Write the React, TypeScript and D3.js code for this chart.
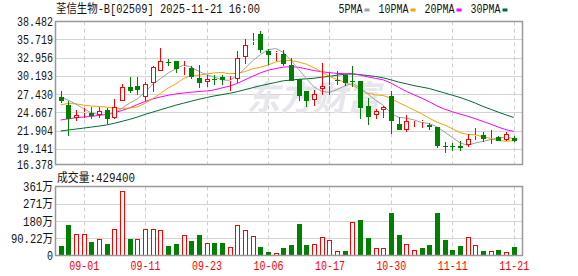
import React from "react";
import * as d3 from "d3";

// ---- data ----
const dates = [
  "08-27","08-28","08-29","09-01","09-02","09-03","09-04","09-05","09-08","09-09",
  "09-10","09-11","09-12","09-15","09-16","09-17","09-18","09-19","09-22","09-23",
  "09-24","09-25","09-26","09-29","09-30","10-02","10-03","10-06","10-08","10-09",
  "10-10","10-13","10-14","10-15","10-16","10-17","10-20","10-21","10-22","10-23",
  "10-24","10-27","10-28","10-30","10-31","11-03","11-04","11-05","11-06","11-07",
  "11-10","11-11","11-12","11-13","11-14","11-17","11-18","11-19","11-20","11-21",
];
const openP = [
  26.94,25.73,23.80,24.55,24.56,24.31,24.97,23.80,26.43,28.51,
  28.66,26.94,29.12,30.99,32.35,32.40,31.60,31.39,29.87,29.27,
  29.72,29.98,29.52,29.72,33.01,35.44,36.60,34.02,33.62,33.52,
  31.90,29.72,27.95,26.58,28.20,28.61,29.62,30.38,29.47,29.47,
  25.67,24.21,24.97,27.09,22.89,22.03,23.35,23.30,22.79,22.43,
  19.60,19.50,19.50,19.65,21.12,21.17,20.61,20.92,20.41,20.77,
];
const highP = [
  27.85,26.33,25.07,25.27,25.42,25.42,25.32,26.69,29.01,29.98,
  29.98,29.22,31.75,34.43,32.71,32.50,32.50,31.65,31.80,30.38,
  30.28,30.38,30.13,33.92,35.85,36.71,36.96,34.33,34.02,34.07,
  32.91,29.72,27.95,28.10,32.15,30.63,30.89,30.48,31.65,29.47,
  26.84,25.22,25.57,27.95,23.90,24.31,23.55,23.45,23.04,22.43,
  20.16,20.01,20.26,21.37,22.28,21.68,22.03,21.02,21.63,21.02,
];
const lowP = [
  26.03,21.00,23.30,23.76,23.65,23.80,22.94,23.70,26.33,27.60,
  27.24,26.43,27.75,30.89,31.70,30.63,30.28,29.77,28.36,28.51,
  28.86,28.76,27.95,29.12,31.99,34.83,33.67,31.90,32.40,31.65,
  29.37,26.43,25.42,25.67,27.34,27.34,28.86,28.61,28.46,23.70,
  22.69,23.70,23.80,21.42,21.93,21.68,22.44,22.28,21.93,19.25,
  18.54,18.84,18.74,19.35,20.41,20.16,19.91,20.26,20.26,20.16,
];
const closeP = [
  26.33,23.65,24.21,24.65,24.05,24.92,23.70,25.42,28.46,27.85,
  28.10,28.91,31.49,32.40,32.25,31.29,31.75,29.98,29.12,29.72,
  29.57,29.52,29.62,32.91,34.93,35.54,34.07,33.42,33.77,32.00,
  29.47,27.19,26.43,27.44,28.71,28.75,29.37,29.12,29.32,25.32,
  23.95,24.81,25.42,23.30,22.03,23.40,23.45,23.40,22.49,19.50,
  19.45,19.35,19.30,20.61,21.27,20.67,20.77,20.36,21.37,20.26,
];
// volume in 万 (10k shares)
const volume = [
  48.6,158,114.6,114.6,69.4,88.5,59,140.6,335,85,
  85,140.6,140.6,135.4,52,59,109,74.6,109,67.7,
  64.2,67.7,46.9,161.4,132,104,46.9,17.4,13.9,38.2,
  53.8,163,53.8,59,95.5,79.9,22.6,22.6,173.6,184,
  90.3,38.2,38.2,220.5,105.9,62.5,31.2,38.2,53.8,220.5,
  81.6,27.8,48.6,99,57.3,22.6,26,27.8,20.8,42.94,
];
// volume bar colour: 1 = up (red), 0 = down (green)
const volUp = [
  0,0,1,1,0,1,0,1,1,0,
  1,1,1,1,0,0,1,0,0,1,
  0,0,1,1,1,1,0,0,1,0,
  0,0,0,1,1,1,1,0,1,0,
  0,1,1,0,0,1,1,0,0,0,
  0,0,0,1,1,0,1,0,1,0,
];
const ma5 = [
  27.0,26.5,25.9,25.2,24.58,24.30,24.31,24.55,25.31,26.07,
  26.71,27.75,28.96,29.75,30.63,31.27,31.84,31.53,30.88,30.37,
  30.03,29.58,29.51,30.27,31.31,32.50,33.41,34.17,34.35,33.76,
  32.55,31.17,29.77,28.51,27.85,27.70,28.13,28.67,29.05,28.37,
  27.42,26.50,25.76,24.56,23.90,23.79,23.52,23.13,22.96,22.46,
  21.67,20.85,20.03,19.65,20.01,20.25,20.53,20.74,20.89,20.69,
];
const ma10 = [
  25.8,26.0,25.95,25.75,25.62,25.55,25.45,25.3,25.25,25.32,
  25.50,26.03,26.76,27.53,28.35,28.99,29.79,30.25,30.31,30.50,
  30.65,30.71,30.52,30.57,30.84,31.27,31.50,31.84,32.31,32.54,
  32.53,32.29,31.97,31.43,30.80,30.12,29.65,29.22,28.78,28.11,
  27.56,27.32,27.22,26.80,26.14,25.60,25.01,24.45,23.76,23.18,
  22.73,22.18,21.58,21.31,21.23,20.96,20.69,20.38,20.27,20.35,
];
const ma20 = [
  23.5,23.68,23.85,23.95,24.05,24.2,24.35,24.6,24.95,25.35,
  25.85,26.3,26.7,27.0,27.25,27.45,27.6,27.72,27.82,27.91,
  28.07,28.37,28.64,29.05,29.60,30.13,30.65,31.05,31.31,31.52,
  31.59,31.50,31.25,31.00,30.82,30.69,30.57,30.53,30.54,30.32,
  30.04,29.81,29.60,29.11,28.47,27.86,27.33,26.83,26.27,25.64,
  25.14,24.75,24.40,24.06,23.68,23.28,22.85,22.41,22.02,21.76,
];
const ma30 = [
  21.83,21.98,22.12,22.27,22.42,22.58,22.75,23.0,23.3,23.6,
  23.95,24.35,24.7,25.05,25.4,25.75,26.05,26.35,26.65,26.9,
  27.15,27.35,27.55,27.8,28.1,28.4,28.7,28.95,29.2,29.45,
  29.56,29.68,29.75,29.84,30.00,30.12,30.31,30.44,30.47,30.38,
  30.24,30.11,29.90,29.60,29.26,29.00,28.72,28.50,28.28,27.94,
  27.60,27.26,26.92,26.51,26.06,25.56,25.12,24.68,24.27,23.88,
];
const priceTicks = [38.482, 35.719, 32.956, 30.193, 27.43, 24.667, 21.904, 19.141, 16.378];
const volTicks = [0, 90.22, 180, 271, 361];
const volTickLabels = ["0", "90.22万", "180万", "271万", "361万"];
const dateTicks = ["09-01", "09-11", "09-23", "10-06", "10-17", "10-30", "11-11", "11-21"];
const titleText = "荃信生物-B[02509] 2025-11-21 16:00";
const volTitle = "成交量:429400";
const watermarkText = "东方财富";
const legendItems = [
  { label: "5PMA", color: "#a0a0a0" },
  { label: "10PMA", color: "#f5a300" },
  { label: "20PMA", color: "#ff00ff" },
  { label: "30PMA", color: "#006b33" },
];

// ---- layout ----
const W = 578, H = 276;
const L = 55.5, R = 522.5;
const T1 = 21.5, B1 = 164.5;
const T2 = 186.5, B2 = 255.5;
const UP = "#ff0000", DOWN = "#008000";
const FONT = "'Liberation Mono','Noto Sans CJK SC',monospace";

const isCJK = (ch: string) => /[\u3000-\u9fff\uff00-\uffef]/.test(ch);
const textW = (s: string) => Array.from(s).reduce((a, c) => a + (isCJK(c) ? 12 : 6), 0);

function T({ x, y, s, anchor = "start", fill = "#111" }: { x: number; y: number; s: string; anchor?: string; fill?: string }) {
  const w = textW(s);
  const x0 = anchor === "end" ? x - w : anchor === "middle" ? x - w / 2 : x;
  return (
    <text x={x0} y={y} fontFamily={FONT} fontSize={12} fill={fill} textLength={w} lengthAdjust="spacingAndGlyphs">
      {s}
    </text>
  );
}

export default function App() {
  const x = d3.scaleBand<string>().domain(dates).range([56.8, 56.8 + dates.length * 7.68]).padding(0);
  const cx = (i: number) => (x(dates[i]) as number) + x.bandwidth() / 2;
  const y = d3.scaleLinear().domain([16.378, 38.482]).range([166.9, 21.3]);
  const yv = d3.scaleLinear().domain([0, 361]).range([B2, T2]);

  const line = (arr: number[]) =>
    d3.line<number>().x((_, i) => cx(i)).y((v) => y(v))(arr) || "";

  return (
    <svg width={W} height={H} style={{ position: "absolute", left: 0, top: 0, background: "#fff" }}>
      <rect x={0} y={0} width={W} height={H} fill="#fff" />
      {/* title */}
      <T x={56} y={13} s={titleText} />
      {/* legend */}
      {(() => {
        let lx = 338.5;
        return legendItems.map((it) => {
          const w = textW(it.label);
          const g = (
            <g key={it.label}>
              <T x={lx} y={13} s={it.label} />
              <rect x={lx + w + 2} y={8.5} width={5} height={3} fill={it.color} />
            </g>
          );
          lx += w + 16;
          return g;
        });
      })()}

      {/* main grid */}
      {priceTicks.slice(1, 8).map((t) => (
        <line key={t} x1={L} x2={R} y1={Math.round(y(t)) + 0.5} y2={Math.round(y(t)) + 0.5} stroke="#d4d4d4" />
      ))}
      {dateTicks.map((d) => {
        const xx = Math.round(cx(dates.indexOf(d))) + 0.5;
        return (
          <g key={d}>
            <line x1={xx} x2={xx} y1={T1} y2={B1} stroke="#cfcfcf" strokeDasharray="4,3" />
            <line x1={xx} x2={xx} y1={T2} y2={B2} stroke="#cfcfcf" strokeDasharray="4,3" />
          </g>
        );
      })}
      {/* watermark */}
      <text x={250} y={110} fontFamily="'Noto Sans CJK SC'" fontWeight="bold" fontSize={34}
        fill="#e6e6ec" transform="translate(20,0) skewX(-12)" textLength={134} lengthAdjust="spacingAndGlyphs">{watermarkText}</text>

      {/* y labels */}
      {priceTicks.map((t) => (
        <T key={t} x={53} y={Math.min(y(t), B1) + 4.5} s={t.toFixed(3)} anchor="end" />
      ))}

      {/* MA lines */}
      <path d={line(ma30)} fill="none" stroke="#006b33" strokeWidth={1} />
      <path d={line(ma20)} fill="none" stroke="#ff00ff" strokeWidth={1} />
      <path d={line(ma10)} fill="none" stroke="#f5a300" strokeWidth={1} />
      <path d={line(ma5)} fill="none" stroke="#a0a0a0" strokeWidth={1} />

      {/* candles */}
      {dates.map((d, i) => {
        const rc = Math.round(cx(i));
        const o = openP[i], c = closeP[i], h = highP[i], l = lowP[i];
        const up = c >= o;
        const top = Math.round(y(Math.max(o, c)));
        const bot = Math.max(Math.round(y(Math.min(o, c))), top + 1);
        const yh = Math.round(y(h)), yl = Math.round(y(l));
        if (up) {
          return (
            <g key={d}>
              <line x1={rc + 0.5} x2={rc + 0.5} y1={yh} y2={top} stroke={UP} />
              <line x1={rc + 0.5} x2={rc + 0.5} y1={bot} y2={yl} stroke={UP} />
              <rect x={rc - 1.5} y={top + 0.5} width={4} height={Math.max(bot - top - 1, 0)} fill="#fff" stroke={UP} />
            </g>
          );
        }
        return (
          <g key={d}>
            <line x1={rc + 0.5} x2={rc + 0.5} y1={yh} y2={yl} stroke={DOWN} />
            <rect x={rc - 2} y={top} width={5} height={Math.max(bot - top, 1)} fill={DOWN} />
          </g>
        );
      })}

      {/* main border */}
      <rect x={L} y={T1} width={R - L} height={B1 - T1} fill="none" stroke="#999" strokeWidth={1.5} />

      {/* volume panel */}
      <T x={57} y={182} s={volTitle} />
      {volTicks.slice(1, 4).map((t) => (
        <line key={t} x1={L} x2={R} y1={Math.round(yv(t)) + 0.5} y2={Math.round(yv(t)) + 0.5} stroke="#d4d4d4" />
      ))}
      {volTicks.map((t, k) => (
        <T key={t} x={53} y={yv(t) + 4.5} s={volTickLabels[k]} anchor="end" />
      ))}
      {dates.map((d, i) => {
        const rc = Math.round(cx(i));
        const top = Math.round(yv(volume[i]));
        const bot = Math.round(yv(0));
        return volUp[i] ? (
          <rect key={d} x={rc - 1.5} y={top + 0.5} width={4} height={bot - top - 1} fill="#fff" stroke={UP} />
        ) : (
          <rect key={d} x={rc - 2} y={top} width={5} height={bot - top} fill={DOWN} />
        );
      })}
      <rect x={L} y={T2} width={R - L} height={B2 - T2} fill="none" stroke="#999" strokeWidth={1.5} />

      {/* date labels */}
      {dateTicks.map((d) => (
        <T key={d} x={cx(dates.indexOf(d)) + 0.5} y={270} s={d} anchor="middle" fill="#ff0000" />
      ))}
    </svg>
  );
}
